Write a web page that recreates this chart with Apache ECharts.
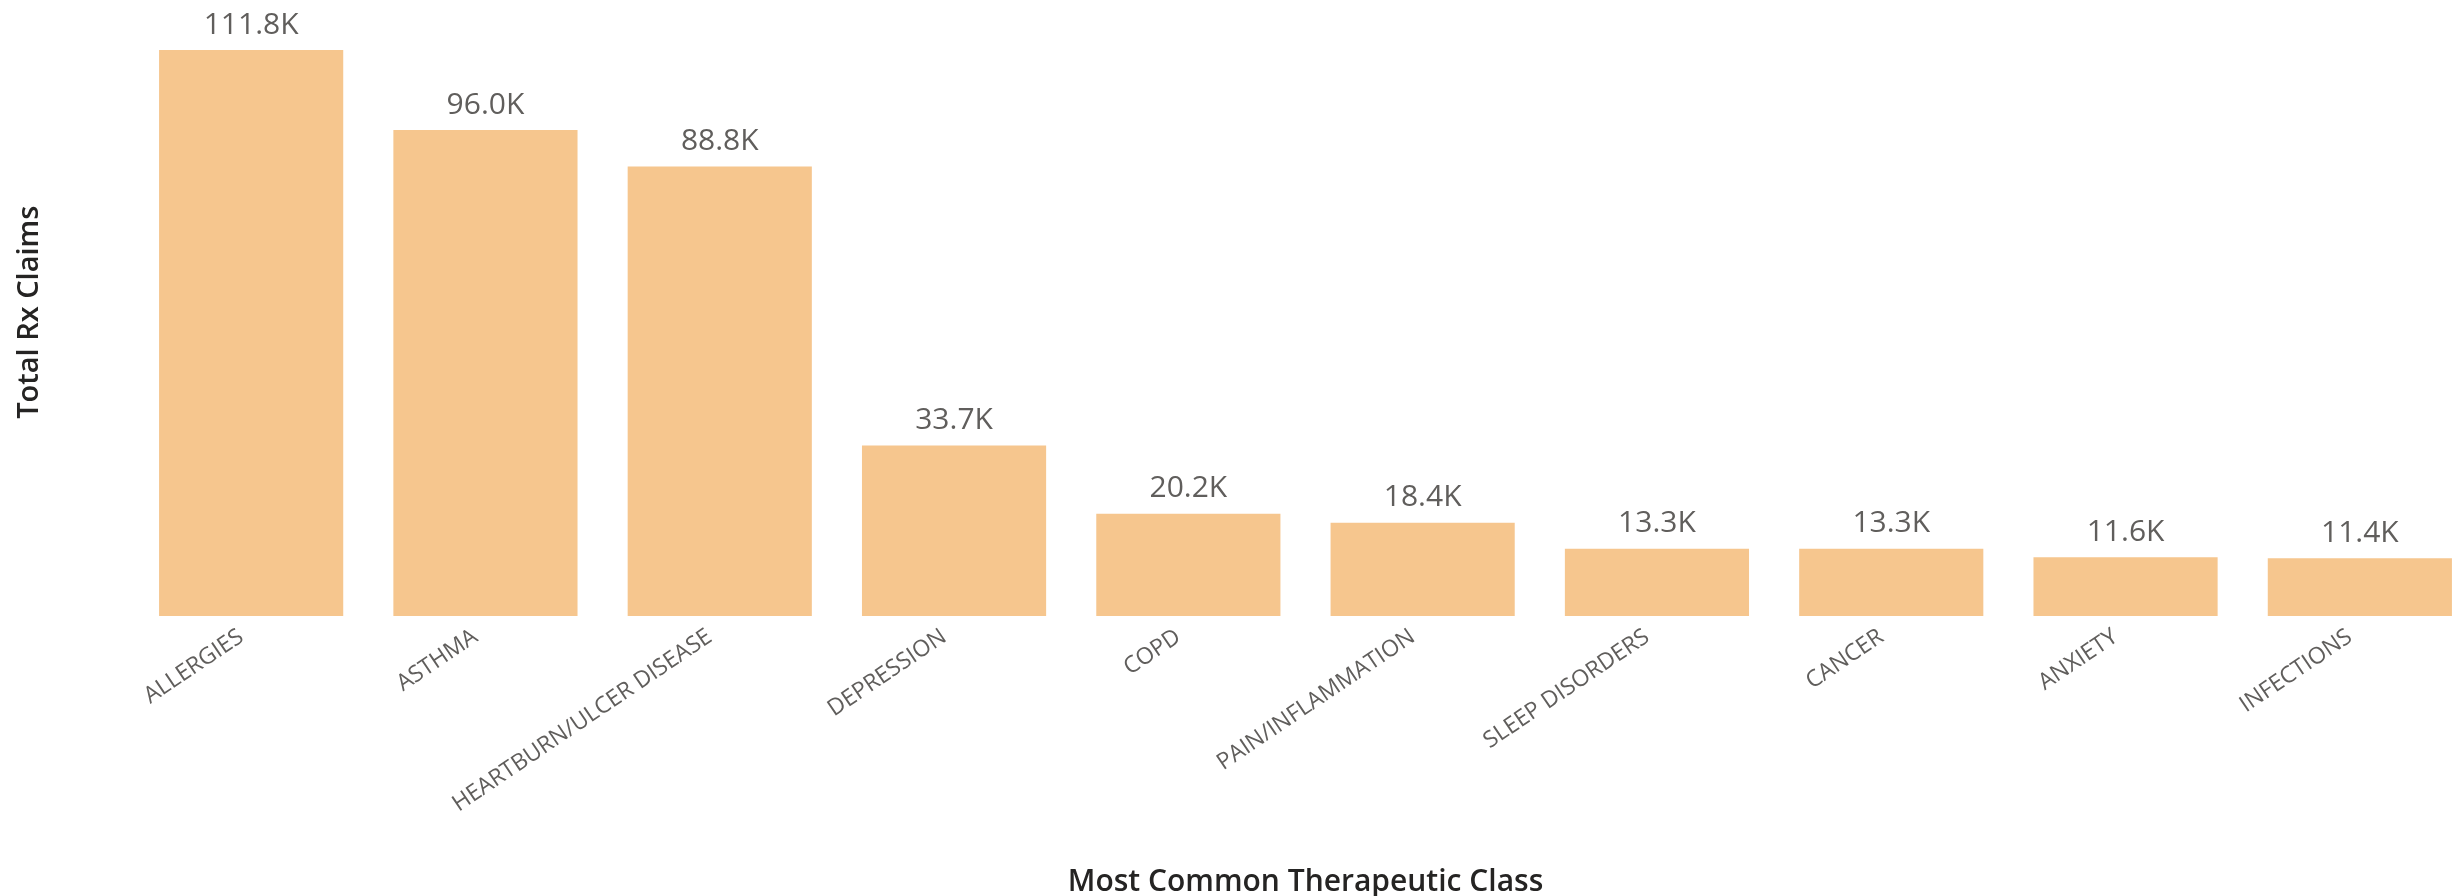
<!DOCTYPE html>
<html>
<head>
<meta charset="utf-8">
<script src="https://cdn.jsdelivr.net/npm/echarts@6/dist/echarts.min.js"></script>
<style>
  html, body { margin: 0; padding: 0; background: #ffffff; }
  #chart { width: 2464px; height: 896px; }
</style>
</head>
<body>
<div id="chart"></div>
<script>
// Therapeutic classes, ordered by claim volume
const categories = [
  'ALLERGIES', 'ASTHMA', 'HEARTBURN/ULCER DISEASE', 'DEPRESSION', 'COPD',
  'PAIN/INFLAMMATION', 'SLEEP DISORDERS', 'CANCER', 'ANXIETY', 'INFECTIONS'
];
// Total Rx claims per class
const claims = [111800, 96000, 88800, 33700, 20200, 18400, 13300, 13300, 11600, 11400];

const xTitle = 'Most Common Therapeutic Class';
const yTitle = 'Total Rx Claims';

const fmtK = v => (v / 1000).toFixed(1) + 'K';

const chart = echarts.init(document.getElementById('chart'), null, { renderer: 'canvas' });
chart.setOption({
  animation: false,
  backgroundColor: '#ffffff',
  grid: {
    left: 134, right: -13, top: 8.5, bottom: 280,
    containLabel: false,
    outerBoundsMode: 'none'
  },
  xAxis: {
    type: 'category',
    data: categories,
    name: xTitle,
    nameLocation: 'middle',
    nameGap: 251,
    nameTextStyle: { fontFamily: 'Open Sans', fontWeight: 600, fontSize: 30, color: '#252423' },
    axisLine: { show: false },
    axisTick: { show: false },
    axisLabel: {
      rotate: 34,
      margin: 12,
      interval: 0,
      padding: [0, 12, 0, 0],
      fontFamily: 'Open Sans',
      fontSize: 23,
      color: '#605E5C'
    }
  },
  yAxis: {
    type: 'value',
    min: 0,
    max: 120000,
    name: yTitle,
    nameLocation: 'middle',
    nameGap: 90,
    nameTextStyle: { fontFamily: 'Open Sans', fontWeight: 600, fontSize: 29, color: '#252423' },
    axisLine: { show: false },
    axisTick: { show: false },
    axisLabel: { show: false },
    splitLine: { show: false }
  },
  series: [{
    type: 'bar',
    data: claims,
    barCategoryGap: '21.4%',
    itemStyle: { color: '#F6C68E' },
    label: {
      show: true,
      position: 'top',
      distance: 10,
      formatter: p => fmtK(p.value),
      fontFamily: 'Open Sans',
      fontSize: 30,
      color: '#605E5C'
    }
  }]
});
</script>
</body>
</html>
